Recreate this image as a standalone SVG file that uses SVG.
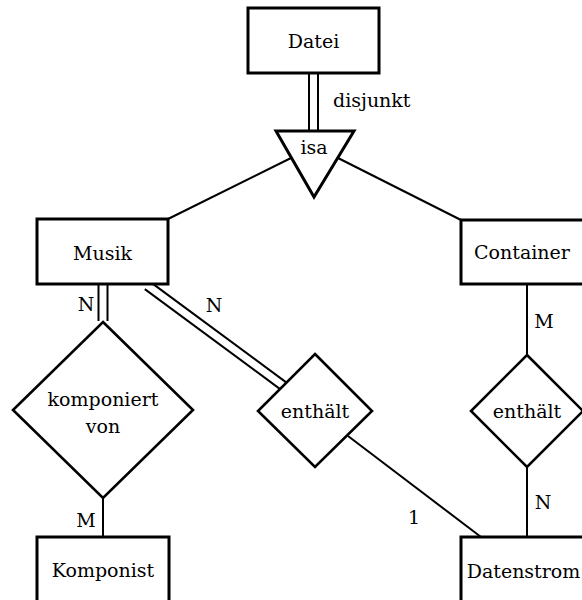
<svg xmlns="http://www.w3.org/2000/svg" width="582" height="600" viewBox="0 0 582 600">
<style>
.ent{fill:#fff;stroke:#000;stroke-width:3}
.rel{fill:#fff;stroke:#000;stroke-width:2.6;stroke-linejoin:miter}
.ln{stroke:#000;stroke-width:2;fill:none}
.t{font-family:"DejaVu Serif",serif;font-size:19px;fill:#000}
.c{text-anchor:middle}
</style>
<rect width="582" height="600" fill="#fff"/>
<g id="connectors">
<line class="ln" x1="309" y1="73" x2="309" y2="131"/>
<line class="ln" x1="318" y1="73" x2="318" y2="131"/>
<line class="ln" x1="291" y1="158" x2="168" y2="219"/>
<line class="ln" x1="338" y1="158" x2="461" y2="220"/>
<line class="ln" x1="98.5" y1="284" x2="98.5" y2="321"/>
<line class="ln" x1="107.5" y1="284" x2="107.5" y2="321"/>
<line class="ln" x1="150.2" y1="281.9" x2="286.2" y2="382.4"/>
<line class="ln" x1="144.8" y1="289.1" x2="280.8" y2="389.6"/>
<line class="ln" x1="348" y1="436" x2="481" y2="537"/>
<line class="ln" x1="527" y1="284" x2="527" y2="355"/>
<line class="ln" x1="527" y1="467" x2="527" y2="537"/>
<line class="ln" x1="103" y1="498" x2="103" y2="537"/>
<text class="t" x="333" y="107">disjunkt</text>
<text class="t c" x="86" y="311">N</text>
<text class="t c" x="214" y="312">N</text>
<text class="t c" x="544" y="328">M</text>
<text class="t c" x="543" y="509">N</text>
<text class="t c" x="414" y="524">1</text>
<text class="t c" x="86" y="527">M</text>
</g>
<g id="Datei">
<rect class="ent" x="248" y="8" width="131" height="65"/>
<text class="t c" x="313.5" y="48">Datei</text>
</g>
<g id="isa">
<polygon class="rel" points="276,131 354,131 314,197" style="stroke-width:3"/>
<text class="t c" x="314" y="154">isa</text>
</g>
<g id="Musik">
<rect class="ent" x="37" y="219" width="131" height="65"/>
<text class="t c" x="102.5" y="260">Musik</text>
</g>
<g id="Container">
<rect class="ent" x="461" y="220" width="131" height="64"/>
<text class="t c" x="522" y="259">Container</text>
</g>
<g id="komponiert_von">
<polygon class="rel" points="103,322 193,410 103,498 13,410"/>
<text class="t c" x="103" y="406">komponiert</text>
<text class="t c" x="103" y="433">von</text>
</g>
<g id="enthaelt1">
<polygon class="rel" points="315,354 372,411 315,467 258,411"/>
<text class="t c" x="315" y="418">enthält</text>
</g>
<g id="enthaelt2">
<polygon class="rel" points="527,355 583,411 527,467 471,411"/>
<text class="t c" x="527" y="418">enthält</text>
</g>
<g id="Komponist">
<rect class="ent" x="37" y="537" width="132" height="66"/>
<text class="t c" x="103" y="577">Komponist</text>
</g>
<g id="Datenstrom">
<rect class="ent" x="461" y="537" width="131" height="66"/>
<text class="t c" x="523.5" y="578">Datenstrom</text>
</g>
</svg>
